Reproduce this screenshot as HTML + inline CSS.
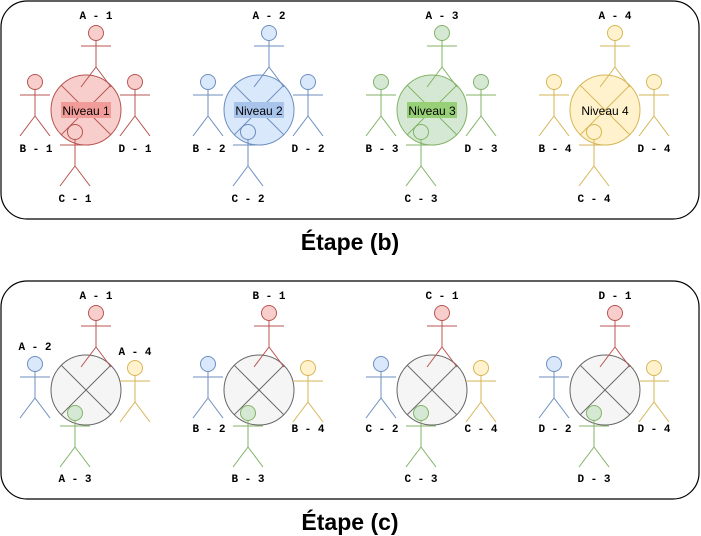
<!DOCTYPE html>
<html><head><meta charset="utf-8"><style>
body{margin:0;background:#fff;width:701px;height:536px;overflow:hidden}
svg{display:block}
.lbl{font-family:"Liberation Mono",monospace;font-weight:bold;font-size:11px;fill:#000}
.ttl{font-family:"Liberation Sans",sans-serif;font-weight:bold;font-size:23px;fill:#000}
.niv{font-family:"Liberation Sans",sans-serif;font-size:12px;fill:#000}
</style></head><body>
<svg id="s" width="701" height="536" xmlns="http://www.w3.org/2000/svg">
<rect x="1" y="1" width="698" height="218" rx="26" fill="#fff" stroke="#000" stroke-width="1.2"/>
<text class="ttl" x="350" y="250" text-anchor="middle">Étape (b)</text>
<rect x="1" y="281" width="698" height="218" rx="26" fill="#fff" stroke="#000" stroke-width="1.2"/>
<text class="ttl" x="350" y="530" text-anchor="middle">Étape (c)</text>
</svg>
<script>
const offsets=[0,173,346,519];
const letters=['A','B','C','D'];
const fills=['#f8cecc','#dae8fc','#d5e8d4','#fff2cc'];
const strokes=['#b85450','#6c8ebf','#82b366','#d6b656'];
const hilite=['#f19c99','#a9c4eb','#97d077','none'];
const NS='http://www.w3.org/2000/svg';
const svg=document.getElementById('s');
function mk(tag,attrs,parent){const e=document.createElementNS(NS,tag);for(const k in attrs)e.setAttribute(k,attrs[k]);(parent||svg).appendChild(e);return e;}
function person(g,hx,hy,fill,stroke){
  mk('line',{x1:hx-15,y1:hy+13,x2:hx+15,y2:hy+13,stroke:stroke},g);
  mk('line',{x1:hx,y1:hy+7.5,x2:hx,y2:hy+34,stroke:stroke},g);
  mk('line',{x1:hx,y1:hy+34,x2:hx-15,y2:hy+54,stroke:stroke},g);
  mk('line',{x1:hx,y1:hy+34,x2:hx+15,y2:hy+54,stroke:stroke},g);
  mk('circle',{cx:hx,cy:hy,r:7.5,fill:fill,stroke:stroke},g);
}
function circ(g,cx,cy,fill,stroke){
  mk('circle',{cx:cx,cy:cy,r:35,fill:fill,stroke:stroke},g);
  const d=24.7;
  mk('line',{x1:cx-d,y1:cy-d,x2:cx+d,y2:cy+d,stroke:stroke},g);
  mk('line',{x1:cx+d,y1:cy-d,x2:cx-d,y2:cy+d,stroke:stroke},g);
}
function label(g,x,y,t){const e=mk('text',{x:x,y:y,'text-anchor':'middle',class:'lbl'},g);e.textContent=t;}
function gp(name){const g=mk('g',{});return g;}
for(let i=0;i<4;i++){
  const o=offsets[i],f=fills[i],s=strokes[i],n=i+1;
  const g=gp('level-'+n+'-group');
  circ(g,86+o,110,f,s);
  person(g,96+o,33,f,s);
  person(g,35+o,82,f,s);
  person(g,135+o,82,f,s);
  if(hilite[i]!=='none') mk('rect',{x:61+o,y:102,width:50,height:16,fill:hilite[i]},g);
  const t=mk('text',{x:86+o,y:115,'text-anchor':'middle',class:'niv'},g);t.textContent='Niveau '+n;
  person(g,75+o,132,f,s);
  label(g,96+o,19,'A - '+n);
  label(g,36+o,152,'B - '+n);
  label(g,135+o,152,'D - '+n);
  label(g,75+o,202,'C - '+n);
}
for(let i=0;i<4;i++){
  const o=offsets[i],L=letters[i],Y=280;
  const g=gp('group-'+L+'-mixed');
  circ(g,86+o,110+Y,'#f5f5f5','#666666');
  person(g,96+o,33+Y,fills[0],strokes[0]);
  person(g,35+o,84+Y,fills[1],strokes[1]);
  person(g,135+o,88+Y,fills[3],strokes[3]);
  person(g,75+o,133+Y,fills[2],strokes[2]);
  label(g,96+o,19+Y,L+' - 1');
  if(i===0){label(g,35+o,70+Y,L+' - 2');label(g,135+o,75+Y,L+' - 4');}
  else{label(g,36+o,152+Y,L+' - 2');label(g,135+o,152+Y,L+' - 4');}
  label(g,75+o,202+Y,L+' - 3');
}
</script>
</body></html>
